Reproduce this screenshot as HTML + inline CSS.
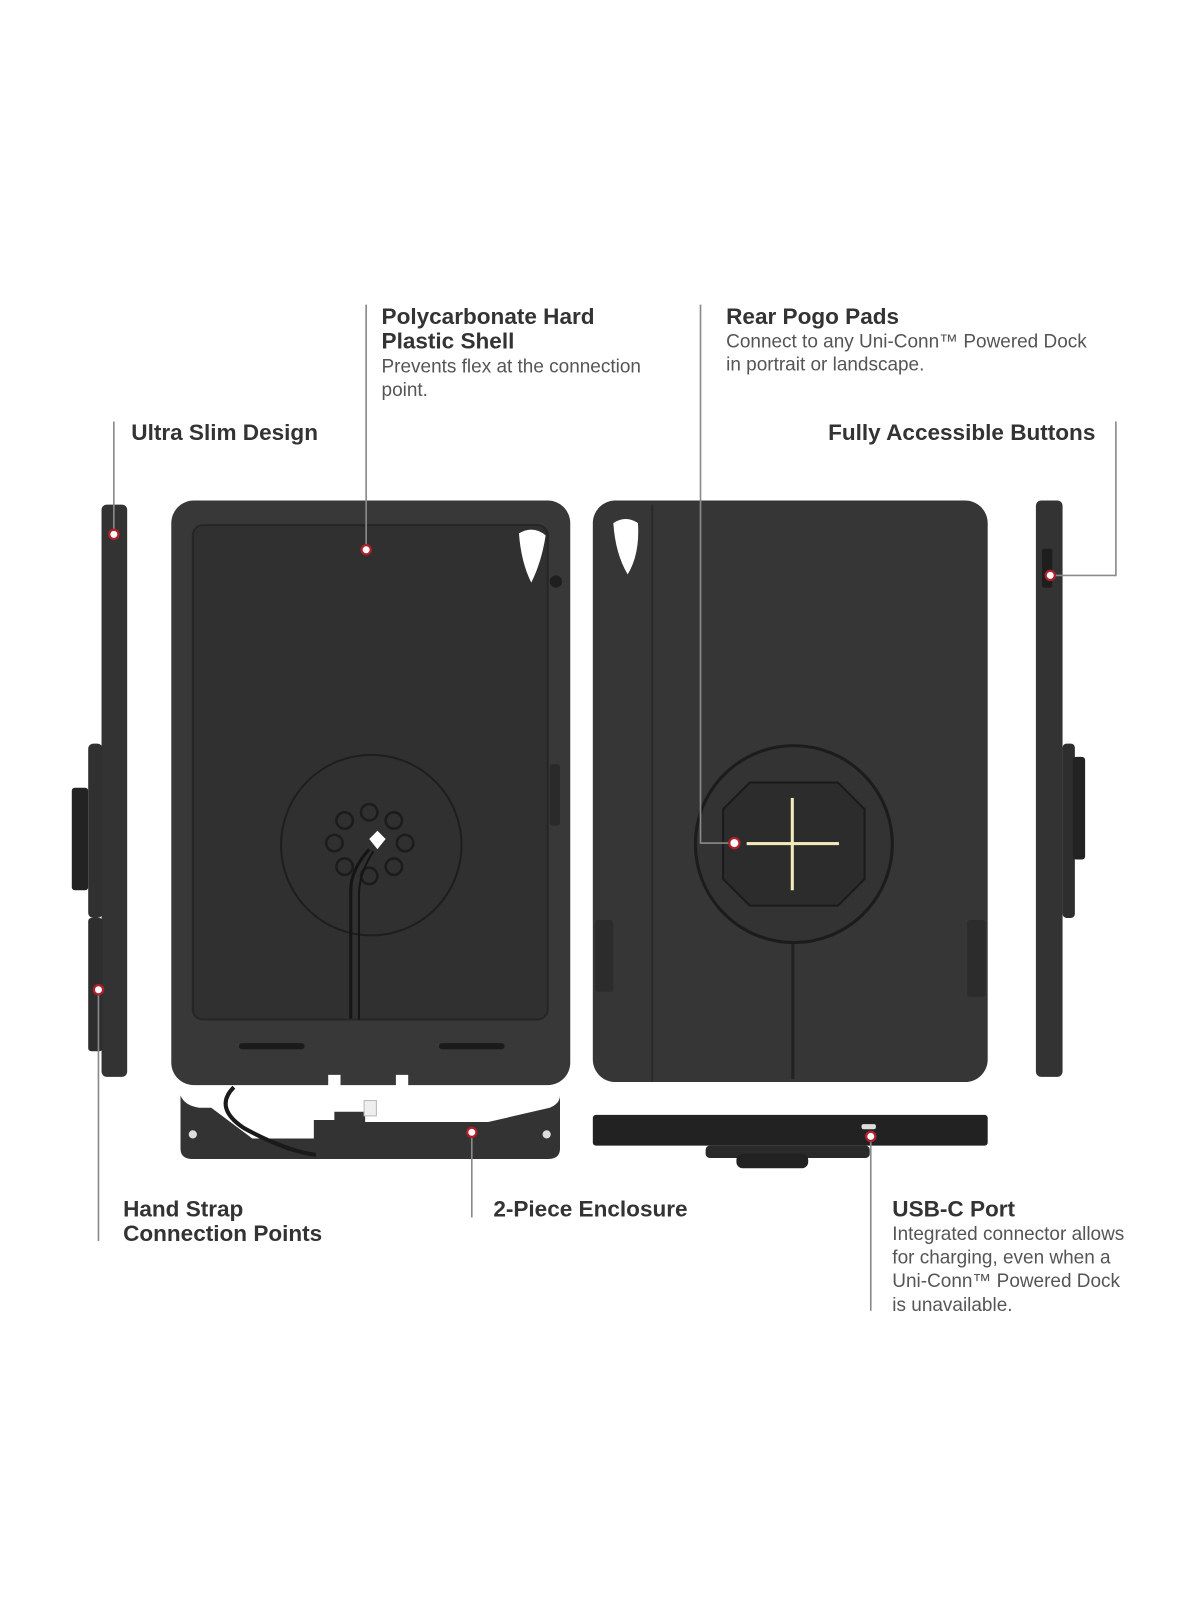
<!DOCTYPE html>
<html><head><meta charset="utf-8"><style>
html,body{margin:0;padding:0;background:#fff;}
svg{display:block;}
.h{font-family:"Liberation Sans",sans-serif;font-size:22px;font-weight:bold;fill:#333;}
.b{font-family:"Liberation Sans",sans-serif;font-size:18.5px;fill:#555;}
.ln{stroke:#8a8a8a;stroke-width:1.6;fill:none;}
.dot{fill:#fff;stroke:#b0202a;stroke-width:2.2;}
</style></head><body>
<svg width="1200" height="1600" viewBox="0 0 1170 1560" xmlns="http://www.w3.org/2000/svg">
<rect width="1170" height="1560" fill="#fff"/>

<!-- Left side view -->
<rect x="99" y="492" width="25" height="558" rx="5" fill="#333"/>
<rect x="86" y="895" width="14" height="130" rx="3" fill="#2e2e2e"/>
<rect x="86" y="725" width="14" height="170" rx="5" fill="#303030"/>
<rect x="70" y="768" width="16" height="100" rx="3" fill="#232323"/>

<!-- Front tablet -->
<rect x="167" y="488" width="389" height="570" rx="22" fill="#383838"/>
<rect x="188" y="512" width="346" height="482" rx="10" fill="#303030" stroke="#262626" stroke-width="2"/>
<path d="M506 520 q14 -8 26 2 q-4 26 -14 46 q-10 -20 -12 -48z" fill="#fff"/>
<circle cx="542" cy="567" r="6" fill="#1f1f1f"/>
<rect x="536" y="745" width="10" height="60" rx="3" fill="#2a2a2a"/>
<circle cx="362" cy="824" r="88" fill="none" stroke="#1e1e1e" stroke-width="2"/>
<g fill="none" stroke="#1c1c1c" stroke-width="2.5">
<circle cx="360" cy="792" r="8"/><circle cx="384" cy="800" r="8"/><circle cx="395" cy="822" r="8"/>
<circle cx="384" cy="845" r="8"/><circle cx="360" cy="854" r="8"/><circle cx="336" cy="845" r="8"/>
<circle cx="326" cy="822" r="8"/><circle cx="336" cy="800" r="8"/>
</g>
<path d="M368 810 l8 8 -8 10 -8 -10z" fill="#fff"/>
<path d="M360 828 q-18 20 -18 40 v125" stroke="#151515" stroke-width="3" fill="none"/>
<path d="M364 830 q-14 22 -14 42 v122" stroke="#151515" stroke-width="2" fill="none"/>
<rect x="233" y="1017" width="64" height="6" rx="3" fill="#1a1a1a"/>
<rect x="428" y="1017" width="64" height="6" rx="3" fill="#1a1a1a"/>
<rect x="320" y="1048" width="12" height="12" fill="#fff"/>
<rect x="386" y="1048" width="12" height="12" fill="#fff"/>

<!-- Bottom piece -->
<path d="M176 1068 q4 10 18 12 h12 l40 30 h60 v-18 h20 v-8 h30 v10 h120 l60 -14 q10 -4 10 -12 v52 q0 10 -12 10 H188 q-12 0 -12 -10z" fill="#333"/>
<path d="M228 1060 q-20 20 10 40 q40 22 70 26" stroke="#1a1a1a" stroke-width="4" fill="none"/>
<rect x="355" y="1073" width="12" height="15" fill="#eee" stroke="#bbb"/>
<circle cx="188" cy="1106" r="4" fill="#ddd"/>
<circle cx="533" cy="1106" r="4" fill="#ddd"/>

<!-- Back tablet -->
<rect x="578" y="488" width="385" height="567" rx="22" fill="#363636"/>
<line x1="636" y1="492" x2="636" y2="1055" stroke="#2a2a2a" stroke-width="2"/>
<path d="M598 510 q12 -8 24 0 q2 30 -10 50 q-12 -20 -14 -50z" fill="#fff"/>
<line x1="773" y1="900" x2="773" y2="1052" stroke="#222" stroke-width="3"/>
<circle cx="774" cy="823" r="96" fill="#333" stroke="#1c1c1c" stroke-width="3"/>
<path d="M731 763 h86 l26 26 v68 l-26 26 h-86 l-26 -26 v-68z" fill="#2c2c2c" stroke="#1b1b1b" stroke-width="2"/>
<g fill="#f2e9b8">
<rect x="728" y="821" width="90" height="3"/>
<rect x="771" y="778" width="3" height="90"/>
</g>
<rect x="580" y="897" width="18" height="70" rx="3" fill="#2c2c2c"/>
<rect x="943" y="897" width="18" height="75" rx="3" fill="#2c2c2c"/>

<!-- Bottom view -->
<rect x="578" y="1087" width="385" height="30" rx="3" fill="#222"/>
<rect x="688" y="1117" width="160" height="12" rx="4" fill="#2a2a2a"/>
<rect x="718" y="1125" width="70" height="14" rx="6" fill="#222"/>
<rect x="840" y="1096" width="14" height="5" rx="2" fill="#ddd"/>

<!-- Right side view -->
<rect x="1010" y="488" width="26" height="562" rx="5" fill="#333"/>
<rect x="1016" y="535" width="10" height="38" rx="2" fill="#1e1e1e"/>
<rect x="1036" y="725" width="12" height="170" rx="4" fill="#2e2e2e"/>
<rect x="1046" y="738" width="12" height="100" rx="3" fill="#232323"/>

<!-- Leader lines -->
<path class="ln" d="M111 411 V521"/>
<path class="ln" d="M357 297 V536"/>
<path class="ln" d="M683 297 V822 H716"/>
<path class="ln" d="M1088 411 V561 H1024"/>
<path class="ln" d="M96 965 V1210"/>
<path class="ln" d="M460 1104 V1187"/>
<path class="ln" d="M849 1110 V1278"/>

<circle class="dot" cx="111" cy="521" r="4.5"/>
<circle class="dot" cx="357" cy="536" r="4.5"/>
<circle class="dot" cx="716" cy="822" r="5"/>
<circle class="dot" cx="1024" cy="561" r="4.5"/>
<circle class="dot" cx="96" cy="965" r="4.5"/>
<circle class="dot" cx="460" cy="1104" r="4.5"/>
<circle class="dot" cx="849" cy="1108" r="4.5"/>

<!-- Labels -->
<text class="h" x="372" y="316">Polycarbonate Hard</text>
<text class="h" x="372" y="340">Plastic Shell</text>
<text class="b" x="372" y="363">Prevents flex at the connection</text>
<text class="b" x="372" y="386">point.</text>

<text class="h" x="708" y="316">Rear Pogo Pads</text>
<text class="b" x="708" y="339">Connect to any Uni-Conn™ Powered Dock</text>
<text class="b" x="708" y="361">in portrait or landscape.</text>

<text class="h" x="128" y="429">Ultra Slim Design</text>
<text class="h" x="1068" y="429" text-anchor="end">Fully Accessible Buttons</text>

<text class="h" x="120" y="1186">Hand Strap</text>
<text class="h" x="120" y="1210">Connection Points</text>
<text class="h" x="481" y="1186">2-Piece Enclosure</text>

<text class="h" x="870" y="1186">USB-C Port</text>
<text class="b" x="870" y="1209">Integrated connector allows</text>
<text class="b" x="870" y="1232">for charging, even when a</text>
<text class="b" x="870" y="1255">Uni-Conn™ Powered Dock</text>
<text class="b" x="870" y="1278">is unavailable.</text>
</svg>
</body></html>
